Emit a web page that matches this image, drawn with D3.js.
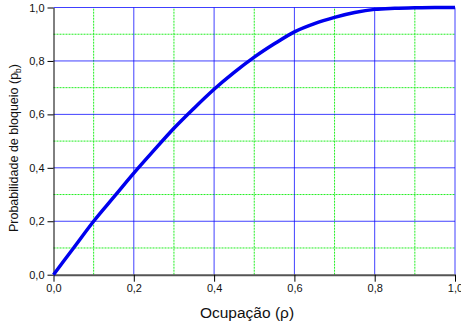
<!DOCTYPE html>
<html lang="pt">
<head>
  <meta charset="UTF-8">
  <title>Probabilidade de bloqueio</title>
  <script src="https://d3js.org/d3.v7.min.js"></script>
  <style>
    body { margin: 0; background: #fff; }
    text { font-family: "Liberation Sans", Arial, sans-serif; fill: #111; }
  </style>
</head>
<body>
  <script>
    const width = 461, height = 327;

    // occupancy (rho) and blocking probability
    const rho = [0, 0.05, 0.1, 0.15, 0.2, 0.25, 0.3, 0.35, 0.4, 0.45, 0.5,
                 0.55, 0.6, 0.65, 0.7, 0.75, 0.8, 0.85, 0.9, 0.95, 1.0];
    const pb  = [0, 0.10, 0.20, 0.29, 0.38, 0.465, 0.548, 0.623, 0.694, 0.757, 0.814,
                 0.864, 0.909, 0.940, 0.963, 0.981, 0.993, 0.997, 0.999, 1.0, 1.0];
    const majorTicks = [0, 0.2, 0.4, 0.6, 0.8, 1.0];
    const minorTicks = [0.1, 0.3, 0.5, 0.7, 0.9];

    const margin = {left: 53.5, right: 6, top: 7.5, bottom: 52.3};

    const svg = d3.select('body')
      .append('svg')
      .attr('width', width)
      .attr('height', height);

    const x = d3.scaleLinear().domain([0, 1]).range([margin.left, width - margin.right]);
    const y = d3.scaleLinear().domain([0, 1]).range([height - margin.bottom, margin.top]);
    const fmt = d => d3.format('.1f')(d).replace('.', ',');

    // minor grid (green dotted)
    const grid = svg.append('g');
    grid.selectAll('.vmin').data(minorTicks).enter().append('line')
      .attr('x1', d => x(d)).attr('x2', d => x(d))
      .attr('y1', y(0)).attr('y2', y(1))
      .attr('stroke', '#22ee22').attr('stroke-dasharray', '2,1');
    grid.selectAll('.hmin').data(minorTicks).enter().append('line')
      .attr('y1', d => y(d)).attr('y2', d => y(d))
      .attr('x1', x(0)).attr('x2', x(1))
      .attr('stroke', '#22ee22').attr('stroke-dasharray', '2,1');

    // major grid (blue)
    grid.selectAll('.vmaj').data(majorTicks.slice(1)).enter().append('line')
      .attr('x1', d => x(d)).attr('x2', d => x(d))
      .attr('y1', y(0)).attr('y2', y(1))
      .attr('stroke', '#0000ff').attr('stroke-opacity', 0.75);
    grid.selectAll('.hmaj').data(majorTicks.slice(1)).enter().append('line')
      .attr('y1', d => y(d)).attr('y2', d => y(d))
      .attr('x1', x(0)).attr('x2', x(1))
      .attr('stroke', '#0000ff').attr('stroke-opacity', 0.75);

    // axes
    const xAxis = d3.axisBottom(x).tickValues(majorTicks).tickFormat(fmt)
      .tickSizeInner(7).tickSizeOuter(0).tickPadding(3);
    const xMinor = d3.axisBottom(x).tickValues(minorTicks).tickFormat('')
      .tickSizeInner(4).tickSizeOuter(0);
    const yAxis = d3.axisLeft(y).tickValues(majorTicks).tickFormat(fmt)
      .tickSizeInner(6).tickSizeOuter(0).tickPadding(3);
    const yMinor = d3.axisLeft(y).tickValues(minorTicks).tickFormat('')
      .tickSizeInner(3).tickSizeOuter(0);

    const gy = svg.append('g').attr('transform', `translate(${margin.left},0)`);
    gy.call(yMinor);
    gy.call(yAxis);
    const gx = svg.append('g').attr('transform', `translate(0,${height - margin.bottom})`);
    gx.call(xMinor);
    gx.call(xAxis);

    svg.selectAll('.domain').attr('stroke', '#000');
    gx.selectAll('.domain').attr('stroke', '#555').attr('stroke-width', 2);
    svg.selectAll('.tick line').attr('stroke', '#000');
    svg.selectAll('.tick text').attr('font-size', 11).attr('fill', '#111')
      .style('font-family', '"Liberation Sans", Arial, sans-serif');

    // curve
    const line = d3.line()
      .x((d, i) => x(rho[i]))
      .y(d => y(d))
      .curve(d3.curveMonotoneX);
    svg.append('path')
      .datum(pb)
      .attr('fill', 'none')
      .attr('stroke', '#0000ee')
      .attr('stroke-width', 3.5)
      .attr('d', line);

    // axis titles
    svg.append('text')
      .attr('x', 247)
      .attr('y', 318)
      .attr('text-anchor', 'middle')
      .attr('font-size', 15.5)
      .text('Ocupação (ρ)');

    const yt = svg.append('text')
      .attr('transform', 'translate(17.5,148) rotate(-90)')
      .attr('text-anchor', 'middle')
      .attr('font-size', 12.5);
    yt.append('tspan').text('Probabilidade de bloqueio (p');
    yt.append('tspan').attr('font-size', 8.5).attr('dy', 3).text('b');
    yt.append('tspan').attr('dy', -3).text(')');
  </script>
</body>
</html>
